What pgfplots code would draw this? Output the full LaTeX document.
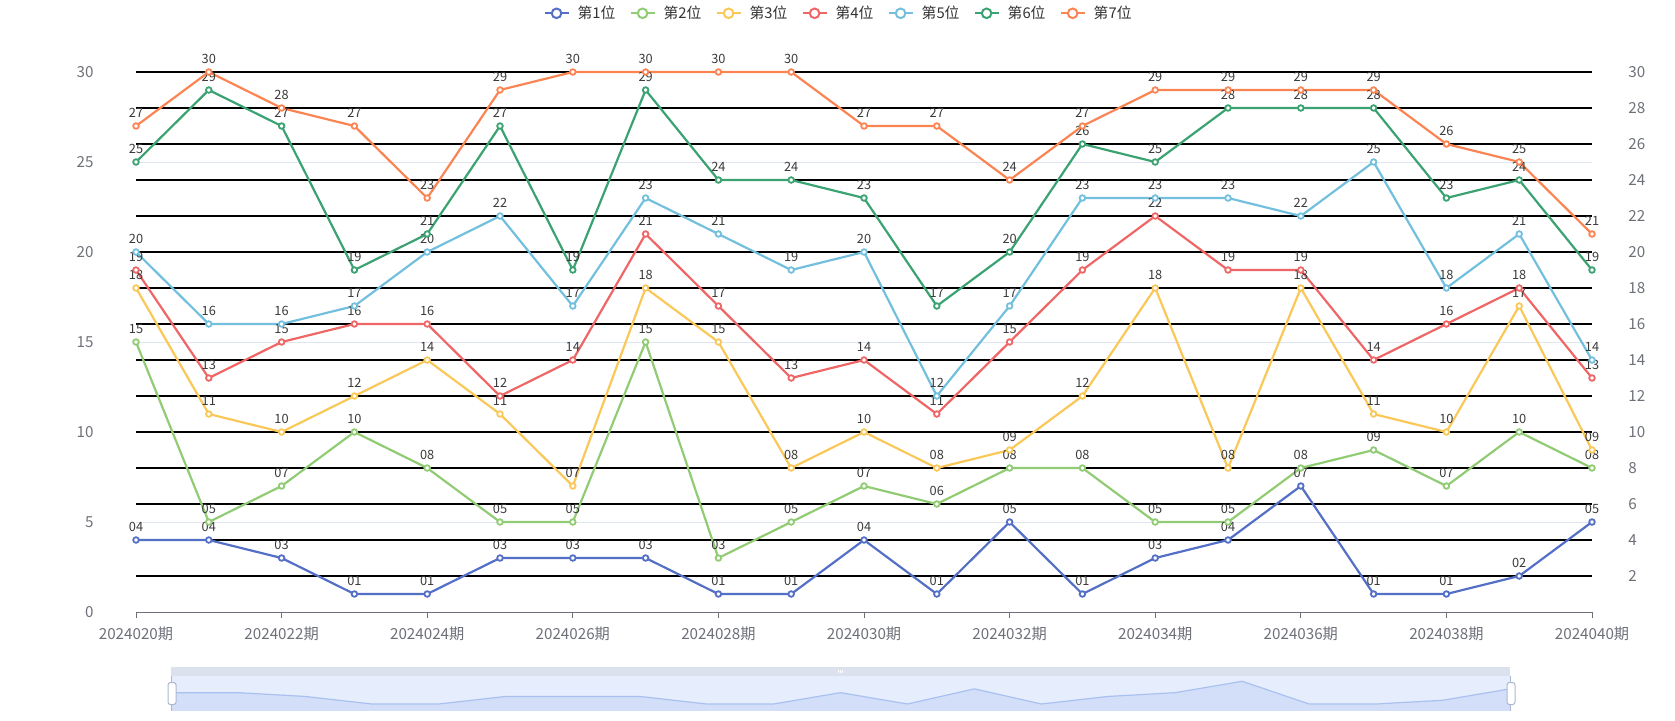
\documentclass[border=0pt]{standalone}
\usepackage{pgfplots}
\pgfplotsset{compat=1.18}
\usepackage{pgfplotstable}
\usepackage{fontspec}
\setmainfont{Noto Sans CJK SC}
\definecolor{c1}{HTML}{5470C6}
\definecolor{c2}{HTML}{91CC75}
\definecolor{c3}{HTML}{FAC858}
\definecolor{c4}{HTML}{EE6666}
\definecolor{c5}{HTML}{73C0DE}
\definecolor{c6}{HTML}{3BA272}
\definecolor{c7}{HTML}{FC8452}
\definecolor{axisgray}{HTML}{6E7079}
\definecolor{gridlight}{HTML}{E0E6F1}
\definecolor{labeltext}{HTML}{3A3A3A}
\definecolor{legtext}{HTML}{333333}
\definecolor{dzbar}{HTML}{DCE1EE}
\definecolor{dzbody}{HTML}{E6EDFC}
\definecolor{dzfill}{HTML}{D3DFF9}
\definecolor{dzline}{HTML}{A9C1F1}
\definecolor{dzhandle}{HTML}{ACB8D1}

\pgfplotstableread{
x s1 l1 s2 l2 s3 l3 s4 l4 s5 l5 s6 l6 s7 l7
0 4 04 15 15 18 18 19 19 20 20 25 25 27 27
1 4 04 5 05 11 11 13 13 16 16 29 29 30 30
2 3 03 7 07 10 10 15 15 16 16 27 27 28 28
3 1 01 10 10 12 12 16 16 17 17 19 19 27 27
4 1 01 8 08 14 14 16 16 20 20 21 21 23 23
5 3 03 5 05 11 11 12 12 22 22 27 27 29 29
6 3 03 5 05 7 07 14 14 17 17 19 19 30 30
7 3 03 15 15 18 18 21 21 23 23 29 29 30 30
8 1 01 3 03 15 15 17 17 21 21 24 24 30 30
9 1 01 5 05 8 08 13 13 19 19 24 24 30 30
10 4 04 7 07 10 10 14 14 20 20 23 23 27 27
11 1 01 6 06 8 08 11 11 12 12 17 17 27 27
12 5 05 8 08 9 09 15 15 17 17 20 20 24 24
13 1 01 8 08 12 12 19 19 23 23 26 26 27 27
14 3 03 5 05 18 18 22 22 23 23 25 25 29 29
15 4 04 5 05 8 08 19 19 23 23 28 28 29 29
16 7 07 8 08 18 18 19 19 22 22 28 28 29 29
17 1 01 9 09 11 11 14 14 25 25 28 28 29 29
18 1 01 7 07 10 10 16 16 18 18 23 23 26 26
19 2 02 10 10 17 17 18 18 21 21 24 24 25 25
20 5 05 8 08 9 09 13 13 14 14 19 19 21 21
}\data

\begin{document}
\begin{tikzpicture}
\path[use as bounding box] (0,0) rectangle (837.5pt,360pt);
% right-hand labels
\begin{axis}[
  at={(68pt,54pt)}, anchor=south west,
  width=728pt, height=270pt, scale only axis,
  xmin=0, xmax=20, ymin=0, ymax=30,
  hide x axis,
  axis y line*=right,
  y axis line style={draw=none},
  ytick={2,4,...,30},
  ytick style={draw=none},
  /pgf/number format/assume math mode=true,
  yticklabel style={font=\fontsize{7.6}{8.5}\selectfont, text=axisgray, anchor=west, inner sep=0pt, xshift=18pt},
]
\end{axis}
\begin{axis}[
  at={(68pt,54pt)}, anchor=south west,
  width=728pt, height=270pt, scale only axis,
  xmin=0, xmax=20, ymin=0, ymax=30,
  clip=false,
  axis x line*=bottom, axis y line*=left,
  x axis line style={draw=axisgray, line width=0.5pt, -},
  y axis line style={draw=none},
  xtick={0,2,...,20},
  xticklabels={2024020期,2024022期,2024024期,2024026期,2024028期,2024030期,2024032期,2024034期,2024036期,2024038期,2024040期},
  xtick style={draw=axisgray, line width=0.5pt},
  tick align=outside, major tick length=3pt,
  ytick={0,5,...,30},
  ytick style={draw=none},
  ymajorgrids,
  major grid style={draw=gridlight, line width=0.5pt},
  extra y ticks={2,4,...,30},
  extra y tick labels={},
  extra y tick style={grid=major, major grid style={draw=black, line width=1pt}, tick style={draw=none}},
  /pgf/number format/assume math mode=true,
  tick label style={font=\fontsize{7.6}{8.5}\selectfont, text=axisgray},
  xticklabel style={anchor=center, inner sep=0pt, yshift=-8pt},
  yticklabel style={anchor=east, inner sep=0pt, xshift=-18pt},
  every axis plot/.append style={line width=1.1pt, mark=*, mark size=1.4pt, mark options={fill=white, line width=0.9pt}},
  nodes near coords={\pgfplotspointmeta},
  every node near coord/.append style={font=\fontsize{6.4}{7.5}\selectfont, text=labeltext, anchor=center, inner sep=0pt, yshift=6.4pt},
  legend columns=7,
  legend style={at={(0.4818,1.1087)}, anchor=center, draw=none, fill=none,
    font=\fontsize{7.4}{8.5}\selectfont, text=legtext,
    /tikz/every odd column/.append style={column sep=4pt},
    /tikz/every even column/.append style={column sep=7pt},
    nodes={inner sep=0pt}},
  legend image code/.code={
    \draw[#1, mark=none, line width=1.1pt] (0pt,0pt) -- (12pt,0pt);
    \draw[#1, mark=none, fill=white, line width=1pt] (6pt,0pt) circle (2.4pt);
  },
]
\addplot[c1, point meta=explicit symbolic] table[x=x, y=s1, meta=l1] {\data};
\addlegendentry{第1位}
\addplot[c2, point meta=explicit symbolic] table[x=x, y=s2, meta=l2] {\data};
\addlegendentry{第2位}
\addplot[c3, point meta=explicit symbolic] table[x=x, y=s3, meta=l3] {\data};
\addlegendentry{第3位}
\addplot[c4, point meta=explicit symbolic] table[x=x, y=s4, meta=l4] {\data};
\addlegendentry{第4位}
\addplot[c5, point meta=explicit symbolic] table[x=x, y=s5, meta=l5] {\data};
\addlegendentry{第5位}
\addplot[c6, point meta=explicit symbolic] table[x=x, y=s6, meta=l6] {\data};
\addlegendentry{第6位}
\addplot[c7, point meta=explicit symbolic] table[x=x, y=s7, meta=l7] {\data};
\addlegendentry{第7位}
\end{axis}
% data zoom slider
\begin{axis}[
  at={(85.5pt,4.5pt)}, anchor=south west,
  width=669.5pt, height=17.5pt, scale only axis,
  xmin=0, xmax=20, ymin=-0.85, ymax=8.4,
  hide axis, clip=false,
]
\fill[dzbody] (rel axis cs:0,0) rectangle (rel axis cs:1,1);
\fill[dzbar] (rel axis cs:0,1) rectangle ([yshift=4.5pt]rel axis cs:1,1);
\fill[dzfill] (axis cs:0,-0.85) rectangle (axis cs:20,0);
\addplot[draw=none, fill=dzfill] table[x=x, y=s1] {\data} \closedcycle;
\addplot[dzline, line width=0.6pt] table[x=x, y=s1] {\data};
\draw[white, line width=0.35pt] ([xshift=-1pt, yshift=1.5pt]rel axis cs:0.5,1) -- ([xshift=-1pt, yshift=3.2pt]rel axis cs:0.5,1);
\draw[white, line width=0.35pt] ([yshift=1.5pt]rel axis cs:0.5,1) -- ([yshift=3.2pt]rel axis cs:0.5,1);
\draw[white, line width=0.35pt] ([xshift=1pt, yshift=1.5pt]rel axis cs:0.5,1) -- ([xshift=1pt, yshift=3.2pt]rel axis cs:0.5,1);
\draw[dzhandle, line width=0.5pt] (rel axis cs:0,0) -- (rel axis cs:0,1);
\draw[dzhandle, line width=0.5pt] (rel axis cs:1,0) -- (rel axis cs:1,1);
\node[draw=dzhandle, fill=white, rounded corners=1.2pt, minimum width=4pt, minimum height=11pt, inner sep=0pt, line width=0.5pt] at ([xshift=0.5pt]rel axis cs:0,0.5) {};
\node[draw=dzhandle, fill=white, rounded corners=1.2pt, minimum width=4pt, minimum height=11pt, inner sep=0pt, line width=0.5pt] at ([xshift=0.5pt]rel axis cs:1,0.5) {};
\end{axis}
\end{tikzpicture}
\end{document}
